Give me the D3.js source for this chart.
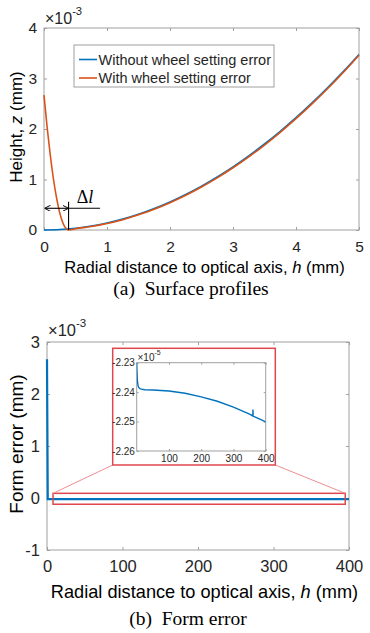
<!DOCTYPE html>
<meta charset="utf-8">
<html>
<head>
<style>
body { margin: 0; background: #fff; }
text { font-family: "Liberation Sans", Arial, sans-serif; fill: #262626; }
.cap { font-family: "Liberation Serif", "Times New Roman", serif; fill: #000; }
.box { fill: none; stroke: #a0a0a0; stroke-width: 1; }
.axis path { display: none; }
.axis line { stroke: #a0a0a0; }
.blue { fill: none; stroke: #0072BD; stroke-width: 1.6; }
.red { fill: none; stroke: #D95319; stroke-width: 1.6; }
</style>
</head>
<body>
<svg id="chart" width="370" height="633"></svg>

<script src="https://d3js.org/d3.v7.min.js"></script>
<script>
// ---- data (heights in units of 1e-3 mm, inset in 1e-5 mm) ----
var hBlue = [0, 0.25, 0.5, 0.75, 1, 1.25, 1.5, 1.75, 2, 2.25, 2.5, 2.75, 3, 3.25, 3.5, 3.75, 4, 4.25, 4.5, 4.75, 5];
var zBlue = [0, 0.009, 0.035, 0.078, 0.139, 0.217, 0.313, 0.426, 0.556, 0.704, 0.869, 1.051, 1.251, 1.468, 1.703, 1.955, 2.224, 2.511, 2.815, 3.136, 3.475];

var hRed = [0, 0.05, 0.1, 0.15, 0.2, 0.25, 0.3, 0.35, 0.39, 0.5, 0.75, 1, 1.25, 1.5, 1.75, 2, 2.25, 2.5, 2.75, 3, 3.25, 3.5, 3.75, 4, 4.25, 4.5, 4.75, 5];
var zRed = [2.67, 2.03, 1.48, 1.01, 0.63, 0.34, 0.14, 0.03, 0, 0.025, 0.068, 0.128, 0.205, 0.300, 0.412, 0.541, 0.688, 0.852, 1.033, 1.232, 1.448, 1.683, 1.935, 2.204, 2.492, 2.797, 3.120, 3.462];

var legendNames = ["Without wheel setting error", "With wheel setting error"];

var hErr = [0, 1, 2, 400];
var eErr = [2.67, -0.0224, -0.0224, -0.0225];

var hZoom = [0, 1, 2, 4, 6, 10, 15, 25, 50, 100, 150, 200, 250, 300, 350, 360, 360.5, 361, 362, 380, 400];
var eZoom = [-2.2300, -2.2335, -2.2360, -2.2377, -2.2384, -2.2388, -2.2390, -2.2392, -2.2393, -2.2396, -2.2404, -2.2416, -2.2431, -2.2451, -2.2475, -2.2481, -2.2459, -2.2481, -2.2482, -2.2491, -2.2501];

var xTicksA = [0, 1, 2, 3, 4, 5], yTicksA = [0, 1, 2, 3, 4];
var xTicksB = [0, 100, 200, 300, 400], yTicksB = [-1, 0, 1, 2, 3];
var xTicksI = [100, 200, 300, 400], yTicksI = [-2.26, -2.25, -2.24, -2.23];

var svg = d3.select("#chart");
svg.append("rect").attr("width", 370).attr("height", 633).attr("fill", "#fff");

// draws box + inward ticks on all four sides, MATLAB style
function boxAxes(g, x, y, xt, yt, opt) {
  var x0 = x.range()[0], x1 = x.range()[1], y0 = y.range()[0], y1 = y.range()[1];
  g.append("rect").attr("class", "box")
    .attr("x", x0).attr("y", y1).attr("width", x1 - x0).attr("height", y0 - y1);
  var t = opt.tick;
  var gb = g.append("g").attr("class", "axis").attr("transform", "translate(0," + y0 + ")")
    .call(d3.axisBottom(x).tickValues(xt).tickSizeInner(-t).tickSizeOuter(0).tickPadding(opt.padX).tickFormat(opt.fx));
  var gl = g.append("g").attr("class", "axis").attr("transform", "translate(" + x0 + ",0)")
    .call(d3.axisLeft(y).tickValues(yt).tickSizeInner(-t).tickSizeOuter(0).tickPadding(opt.padY).tickFormat(opt.fy));
  g.append("g").attr("class", "axis").attr("transform", "translate(0," + y1 + ")")
    .call(d3.axisTop(x).tickValues(xt).tickSizeInner(-t).tickSizeOuter(0).tickFormat(""));
  g.append("g").attr("class", "axis").attr("transform", "translate(" + x1 + ",0)")
    .call(d3.axisRight(y).tickValues(yt).tickSizeInner(-t).tickSizeOuter(0).tickFormat(""));
  gb.selectAll("text").style("font-size", opt.fs + "px");
  gl.selectAll("text").style("font-size", opt.fs + "px");
}

function expLabel(x, y, fs, pw) {
  var t = svg.append("text").attr("x", x).attr("y", y).style("font-size", fs + "px");
  t.append("tspan").text("\u00d710");
  t.append("tspan").attr("dy", -fs * 0.55).style("font-size", (fs * 0.7) + "px").text(pw);
}

// ================= (a) surface profiles =================
var xa = d3.scaleLinear().domain([0, 5]).range([44, 359]);
var ya = d3.scaleLinear().domain([0, 4]).range([230, 28]);
var ga = svg.append("g");
boxAxes(ga, xa, ya, xTicksA, yTicksA, {tick: 3, padX: 11, padY: 7, fs: 15.5,
  fx: function (d) { return String(d); }, fy: function (d) { return String(d); }});

var lineA = d3.line().curve(d3.curveMonotoneX)
  .x(function (d) { return xa(d[0]); }).y(function (d) { return ya(d[1]); });
ga.append("path").attr("class", "blue").attr("d", lineA(d3.zip(hBlue, zBlue)));
ga.append("path").attr("class", "red").attr("d", lineA(d3.zip(hRed, zRed)));

// delta l annotation
var defs = svg.append("defs");
defs.append("marker").attr("id", "ah").attr("viewBox", "0 0 8 8").attr("refX", 8).attr("refY", 4)
  .attr("markerWidth", 6).attr("markerHeight", 6).attr("markerUnits", "userSpaceOnUse")
  .attr("orient", "auto-start-reverse")
  .append("path").attr("d", "M0,0L8,4L0,8").attr("fill", "none").attr("stroke", "#000").attr("stroke-width", 1.3);
var dl = 0.39, za = 0.43;
ga.append("line").attr("x1", xa(0) + 0.5).attr("x2", xa(dl)).attr("y1", ya(za)).attr("y2", ya(za))
  .attr("stroke", "#000").attr("stroke-width", 1.1)
  .attr("marker-start", "url(#ah)").attr("marker-end", "url(#ah)");
ga.append("line").attr("x1", xa(dl)).attr("x2", xa(0.89)).attr("y1", ya(za)).attr("y2", ya(za))
  .attr("stroke", "#000").attr("stroke-width", 1.1);
ga.append("line").attr("x1", xa(dl)).attr("x2", xa(dl)).attr("y1", ya(0)).attr("y2", ya(0.56))
  .attr("stroke", "#000").attr("stroke-width", 1.1);
var dlt = ga.append("text").attr("class", "cap").attr("x", xa(0.52)).attr("y", 203).style("font-size", "18px");
dlt.append("tspan").text("\u0394");
dlt.append("tspan").style("font-style", "italic").text("l");

// legend
var lg = ga.append("g");
lg.append("rect").attr("x", 74).attr("y", 45).attr("width", 200).attr("height", 42)
  .attr("fill", "#fff").attr("stroke", "#a0a0a0");
legendNames.forEach(function (n, i) {
  var yy = 59.5 + i * 18.5;
  lg.append("line").attr("x1", 79).attr("x2", 97).attr("y1", yy).attr("y2", yy)
    .attr("class", i === 0 ? "blue" : "red");
  lg.append("text").attr("x", 98.5).attr("y", yy + 5.2).style("font-size", "14.5px").text(n);
});

expLabel(45, 24, 16, "-3");

var xlA = svg.append("text").attr("x", 204.5).attr("y", 273).attr("text-anchor", "middle")
  .style("font-size", "16.6px").style("fill", "#000");
xlA.append("tspan").text("Radial distance to optical axis, ");
xlA.append("tspan").style("font-style", "italic").text("h");
xlA.append("tspan").text(" (mm)");

var ylA = svg.append("text").attr("transform", "translate(22,127) rotate(-90)").attr("text-anchor", "middle")
  .style("font-size", "17px").style("fill", "#000");
ylA.append("tspan").text("Height, ");
ylA.append("tspan").style("font-style", "italic").text("z");
ylA.append("tspan").text(" (mm)");

svg.append("text").attr("class", "cap").attr("x", 191).attr("y", 295).attr("text-anchor", "middle")
  .style("font-size", "19.5px").style("white-space", "pre").text("(a)  Surface profiles");

// ================= (b) form error =================
var xb = d3.scaleLinear().domain([0, 400]).range([47, 349]);
var yb = d3.scaleLinear().domain([-1, 3]).range([550, 342]);
var gbx = svg.append("g");
boxAxes(gbx, xb, yb, xTicksB, yTicksB, {tick: 3, padX: 10, padY: 7, fs: 16.5,
  fx: function (d) { return String(d); }, fy: function (d) { return String(d); }});

var lineB = d3.line().x(function (d) { return xb(d[0]); }).y(function (d) { return yb(d[1]); });
gbx.append("path").attr("class", "blue").style("stroke-width", 2.2).attr("d", lineB(d3.zip(hErr, eErr)));

// zoom window on main axes
var zx0 = 8, zx1 = 395, zy0 = 0.09, zy1 = -0.12;
var redC = "#e0474c";
gbx.append("rect").attr("x", xb(zx0)).attr("y", yb(zy0)).attr("width", xb(zx1) - xb(zx0))
  .attr("height", yb(zy1) - yb(zy0)).attr("fill", "none").attr("stroke", redC).attr("stroke-width", 1.5);

// inset frame
var fr = {x0: 112.7, x1: 275.3, y0: 348.3, y1: 465};
gbx.append("line").attr("x1", fr.x0).attr("y1", fr.y1).attr("x2", xb(zx0)).attr("y2", yb(zy0))
  .attr("stroke", "#ee8f91").attr("stroke-width", 1);
gbx.append("line").attr("x1", fr.x1).attr("y1", fr.y1).attr("x2", xb(zx1)).attr("y2", yb(zy0))
  .attr("stroke", "#ee8f91").attr("stroke-width", 1);
gbx.append("rect").attr("x", fr.x0).attr("y", fr.y0).attr("width", fr.x1 - fr.x0).attr("height", fr.y1 - fr.y0)
  .attr("fill", "#fff").attr("stroke", redC).attr("stroke-width", 1.5);

var xi = d3.scaleLinear().domain([0, 400]).range([136.7, 265.7]);
var yi = d3.scaleLinear().domain([-2.26, -2.23]).range([451, 362.7]);
var gi = svg.append("g");
boxAxes(gi, xi, yi, xTicksI, yTicksI, {tick: 2, padX: 3.5, padY: 1.8, fs: 10,
  fx: function (d) { return String(d); }, fy: function (d) { return d.toFixed(2); }});
gi.append("clipPath").attr("id", "clipI").append("rect")
  .attr("x", 136.7).attr("y", 362.7).attr("width", 129).attr("height", 88.3);
var lineI = d3.line().x(function (d) { return xi(d[0]); }).y(function (d) { return yi(d[1]); });
gi.append("path").attr("class", "blue").attr("clip-path", "url(#clipI)").style("stroke-width", 1.4)
  .attr("d", lineI(d3.zip(hZoom, eZoom)));

expLabel(137.5, 360.5, 10, "-5");
expLabel(48, 336, 16.5, "-3");

var xlB = svg.append("text").attr("x", 204.5).attr("y", 598).attr("text-anchor", "middle")
  .style("font-size", "18.2px").style("fill", "#000");
xlB.append("tspan").text("Radial distance to optical axis, ");
xlB.append("tspan").style("font-style", "italic").text("h");
xlB.append("tspan").text(" (mm)");

svg.append("text").attr("transform", "translate(23,444) rotate(-90)").attr("text-anchor", "middle")
  .style("font-size", "19px").style("fill", "#000").text("Form error (mm)");

svg.append("text").attr("class", "cap").attr("x", 188).attr("y", 625).attr("text-anchor", "middle")
  .style("font-size", "19.5px").style("white-space", "pre").text("(b)  Form error");
</script>
</body>
</html>
